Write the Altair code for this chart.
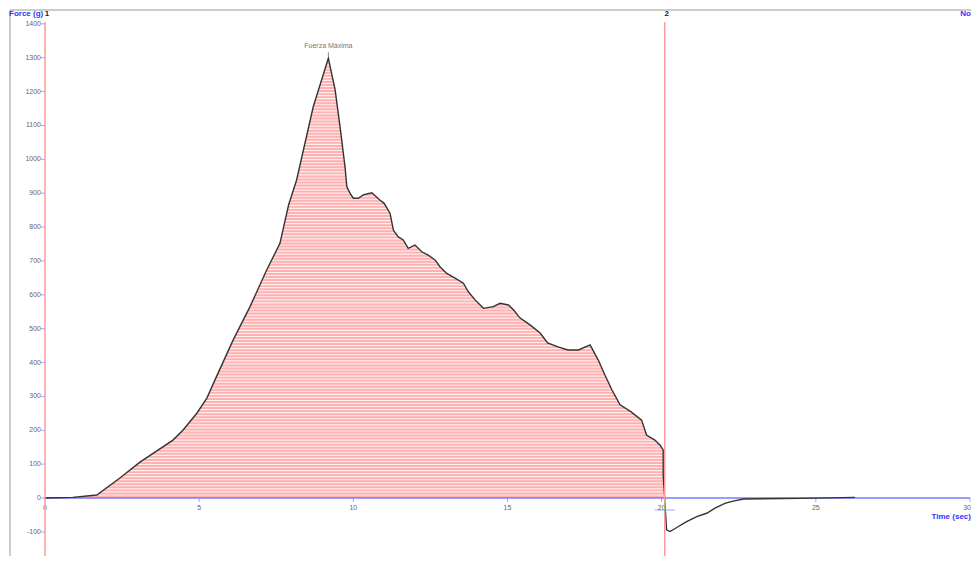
import altair as alt
import pandas as pd

# ---- data ----
t_load = [0, 0.9, 1.68, 2.43, 3.08, 4.15, 4.48, 4.93, 5.25, 5.51, 6.1, 6.65, 7.19, 7.62,
          7.9, 8.16, 8.7, 9.19, 9.41, 9.57, 9.73, 9.79, 9.89, 10.0, 10.16, 10.32, 10.6,
          10.86, 11.0, 11.19, 11.3, 11.46, 11.62, 11.78, 12.0, 12.22, 12.43, 12.65, 12.81,
          13.03, 13.3, 13.57, 13.73, 13.95, 14.22, 14.54, 14.76, 15.03, 15.2, 15.4, 15.73,
          16.06, 16.3, 16.64, 16.96, 17.3, 17.68, 17.94, 18.16, 18.39, 18.65, 19.0, 19.35,
          19.51, 19.78, 19.95, 20.05]
f_load = [0, 2, 9, 59, 106, 171, 201, 251, 295, 348, 466, 565, 673, 752,
          865, 939, 1155, 1298, 1205, 1096, 978, 919, 900, 885, 885, 895, 901,
          880, 870, 841, 791, 771, 762, 737, 747, 727, 717, 703, 683,
          663, 649, 634, 609, 585, 560, 565, 575, 570, 555, 532, 511,
          487, 458, 446, 437, 437, 452, 408, 363, 319, 275, 255, 230,
          186, 171, 156, 142]
t_release = [20.05, 20.16, 20.27, 20.49, 20.81, 21.14, 21.46, 21.73, 22.05, 22.32, 22.65, 24.5, 26.27]
f_release = [68, -94, -99, -87, -70, -55, -45, -30, -16, -9, -3, -1, 2]

marker_t = [0, 20.1]
marker_lbl = ["1", "2"]
peak_t, peak_f, peak_lbl = 9.19, 1298, "Fuerza Máxima"

x_ticks = [0, 5, 10, 15, 20, 25, 30]
y_ticks = [1400, 1300, 1200, 1100, 1000, 900, 800, 700, 600, 500, 400, 300, 200, 100, 0, -100]
stripe_levels = list(range(9, 1300, 9))

W, H = 961, 546
X_DOM = [-1.135, 30.033]
Y_DOM = [-171.2, 1440.8]
FONT = "Liberation Sans"
BLUE = "#7a7aff"
RED = "#ff9a9a"
GREY = "#666666"

load = pd.DataFrame({"t": t_load, "f": f_load, "z": 0})
curve = pd.DataFrame({"t": t_load + t_release, "f": f_load + f_release,
                      "o": list(range(len(t_load) + len(t_release)))})
markers = pd.DataFrame({"t": marker_t, "lbl": marker_lbl})
xt = pd.DataFrame({"t": x_ticks, "f": 0, "lbl": [str(v) for v in x_ticks]})
yt = pd.DataFrame({"f": y_ticks, "t": 0, "lbl": [str(v) for v in y_ticks]})
stripes = pd.DataFrame({"f": stripe_levels, "t": 0, "t2": 20.1})
axis_df = pd.DataFrame({"t": [0], "t2": [30], "f": [0]})
cursor_df = pd.DataFrame({"t": [20.1], "f": [0]})
peak_df = pd.DataFrame({"t": [peak_t], "f": [peak_f], "lbl": [peak_lbl]})
xtitle_df = pd.DataFrame({"t": [30], "f": [0], "lbl": ["Time (sec)"]})
one = pd.DataFrame({"a": [0]})

xs = alt.Scale(domain=X_DOM, nice=False, zero=False)
ys = alt.Scale(domain=Y_DOM, nice=False, zero=False)


def X(f="t"):
    return alt.X(f"{f}:Q", scale=xs, axis=None)


def Y(f="f"):
    return alt.Y(f"{f}:Q", scale=ys, axis=None)


frame_top = alt.Chart(one).mark_rule(color="#9a9a9a", strokeWidth=1).encode(
    x=alt.value(0), x2=alt.value(W), y=alt.value(0))
frame_left = alt.Chart(one).mark_rule(color="#9a9a9a", strokeWidth=1).encode(
    x=alt.value(0), y=alt.value(0), y2=alt.value(H))

area = alt.Chart(load).mark_area(color="#ffb0b0", opacity=1, interpolate="linear").encode(
    x=X(), y=Y(), y2="z:Q")

stripe = alt.Chart(stripes).mark_rule(color="white", strokeWidth=1.1, opacity=0.8).encode(
    x=X(), x2="t2:Q", y=Y())

xaxis = alt.Chart(axis_df).mark_rule(color=BLUE, strokeWidth=1.5).encode(
    x=X(), x2="t2:Q", y=Y())

xtick = alt.Chart(xt).mark_tick(orient="vertical", size=4, thickness=1, color=BLUE, yOffset=2).encode(
    x=X(), y=Y())
xlab = alt.Chart(xt).transform_filter("datum.t < 30").mark_text(
    font=FONT, fontSize=7, color=GREY, dy=10, baseline="middle").encode(
    x=X(), y=Y(), text="lbl:N")
xlab_last = alt.Chart(xt).transform_filter("datum.t >= 30").mark_text(
    font=FONT, fontSize=7, color=GREY, dy=10, dx=1, align="right", baseline="middle").encode(
    x=X(), y=Y(), text="lbl:N")

ytick = alt.Chart(yt).mark_tick(orient="horizontal", size=4, thickness=1, color=BLUE, xOffset=-2).encode(
    x=X(), y=Y())
ylab = alt.Chart(yt).mark_text(font=FONT, fontSize=7, color=GREY, dx=-4, align="right", baseline="middle").encode(
    x=X(), y=Y(), text="lbl:N")

line = alt.Chart(curve).mark_line(color="#333333", strokeWidth=1.4).encode(
    x=X(), y=Y(), order="o:Q")

vlines = alt.Chart(markers).mark_rule(color=RED, strokeWidth=1.5).encode(
    x=X(), y=alt.value(12), y2=alt.value(H))
vlabels = alt.Chart(markers).mark_text(font=FONT, fontSize=8, fontWeight="bold", color="#222222", dx=2,
                                       baseline="middle").encode(
    x=X(), y=alt.value(4), text="lbl:N")

peak_text = alt.Chart(peak_df).mark_text(font=FONT, fontSize=7, color="#777777", dy=-12,
                                         baseline="middle").encode(
    x=X(), y=Y(), text="lbl:N")
peak_tick = alt.Chart(peak_df).mark_tick(orient="vertical", size=4, thickness=1, color="#555555",
                                         yOffset=-4).encode(x=X(), y=Y())

cur_g = alt.Chart(cursor_df).mark_tick(orient="vertical", size=10, thickness=1.2, color="#55dd55",
                                       yOffset=10).encode(x=X(), y=Y())
cur_b = alt.Chart(cursor_df).mark_tick(orient="horizontal", size=20, thickness=1, color=BLUE,
                                       yOffset=12).encode(x=X(), y=Y())

ytitle = alt.Chart(pd.DataFrame({"lbl": ["Force (g)"]})).mark_text(
    font=FONT, fontSize=8, fontWeight="bold", color="#3333ff", align="left", baseline="middle").encode(
    x=alt.value(-1), y=alt.value(4), text="lbl:N")
xtitle = alt.Chart(xtitle_df).mark_text(
    font=FONT, fontSize=8, fontWeight="bold", color="#3333ff", align="right", baseline="middle",
    dx=1, dy=19).encode(x=X(), y=Y(), text="lbl:N")
notext = alt.Chart(pd.DataFrame({"lbl": ["No"]})).mark_text(
    font=FONT, fontSize=8, fontWeight="bold", color="#3333ff", align="right", baseline="middle").encode(
    x=alt.value(W), y=alt.value(4), text="lbl:N")

chart = alt.layer(
    frame_top, frame_left, area, stripe, xaxis, xtick, xlab, xlab_last, ytick, ylab, line,
    vlines, cur_g, cur_b, vlabels, peak_tick, peak_text, ytitle, xtitle, notext
).properties(
    width=W, height=H,
    autosize=alt.AutoSizeParams(type="none"),
    padding={"left": 2, "top": 2, "right": 0, "bottom": 0},
).configure_view(stroke=None)

chart.save("out.html", embed_options={"renderer": "svg", "actions": False})
